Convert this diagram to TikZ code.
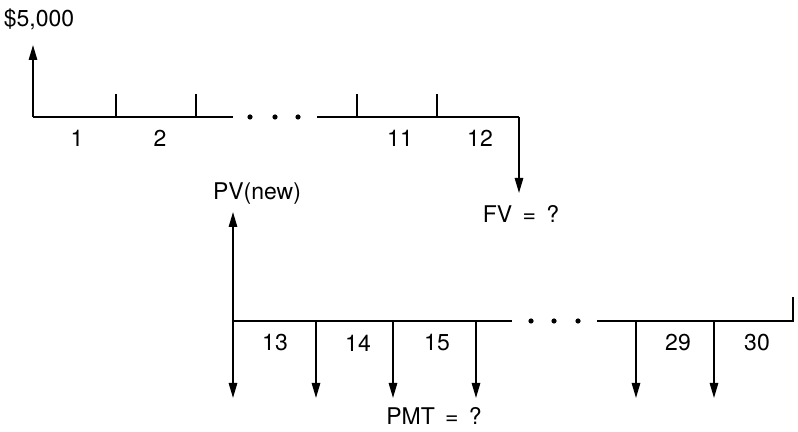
\documentclass[tikz,border=0pt]{standalone}
\usepackage{fontspec}
\setmainfont{TeX Gyre Heros}
\usetikzlibrary{arrows.meta}
\begin{document}
\begin{tikzpicture}[x=0.5pt,y=-0.5pt,
  axis/.style={line width=0.8pt},
  arr/.style={line width=0.8pt,-{Triangle[length=7.5pt,width=4.2pt]}},
  lbl/.style={font=\fontsize{11.5}{13}\selectfont, inner sep=0pt},
  dotmark/.style={circle,fill,inner sep=0pt,minimum size=2.6pt}]
\useasboundingbox (0,0) rectangle (798,432);
% ---------- top time line ----------
\coordinate (a0) at (33,117);
\coordinate (t1) at (116,117);
\coordinate (t2) at (196,117);
\coordinate (a1) at (233,117);
\coordinate (b0) at (317,117);
\coordinate (t3) at (357,117);
\coordinate (t4) at (437,117);
\coordinate (a2) at (519,117);
\coordinate (up1) at (33,45);
\coordinate (fvtip) at (519,193);
\draw[axis] (a0) -- (a1);
\draw[axis] (b0) -- (a2);
\foreach \t in {t1,t2,t3,t4} \draw[axis] (\t) -- ++(0,-23);
\draw[arr] (a0) -- (up1);
\draw[arr] (a2) -- (fvtip);
\node[dotmark] (d1) at (250,117) {};
\node[dotmark] (d2) at (275,117) {};
\node[dotmark] (d3) at (298,117) {};
\node[lbl] (pv) at (39,19) {\$5,000};
\node[lbl] (l1) at (77,138) {1};
\node[lbl] (l2) at (160,138) {2};
\node[lbl] (l11) at (400,138) {11};
\node[lbl] (l12) at (480,138) {12};
\node[lbl] (fv) at (521,214) {FV\hspace{0.45em}=\hspace{0.45em}?};
% ---------- bottom time line ----------
\coordinate (c0) at (233,321);
\coordinate (c1) at (512,321);
\coordinate (e0) at (597,321);
\coordinate (e1) at (793,321);
\coordinate (e2) at (793,297);
\coordinate (pvtip) at (233,212);
\draw[axis] (c0) -- (c1);
\draw[axis] (e0) -- (e1) -- (e2);
\draw[arr] (c0) -- (pvtip);
\foreach \x in {233,316,393,476,636,714}
  \draw[arr] (\x,321) -- (\x,398);
\node[dotmark] (d4) at (531,321) {};
\node[dotmark] (d5) at (554,321) {};
\node[dotmark] (d6) at (578,321) {};
\node[lbl] (pvn) at (257,194) {PV(new)};
\node[lbl] (l13) at (275,343) {13};
\node[lbl] (l14) at (358,343) {14};
\node[lbl] (l15) at (437,343) {15};
\node[lbl] (l29) at (678,343) {29};
\node[lbl] (l30) at (757,343) {30};
\node[lbl] (pmt) at (434,416) {PMT\hspace{0.45em}=\hspace{0.45em}?};
\end{tikzpicture}
\end{document}
